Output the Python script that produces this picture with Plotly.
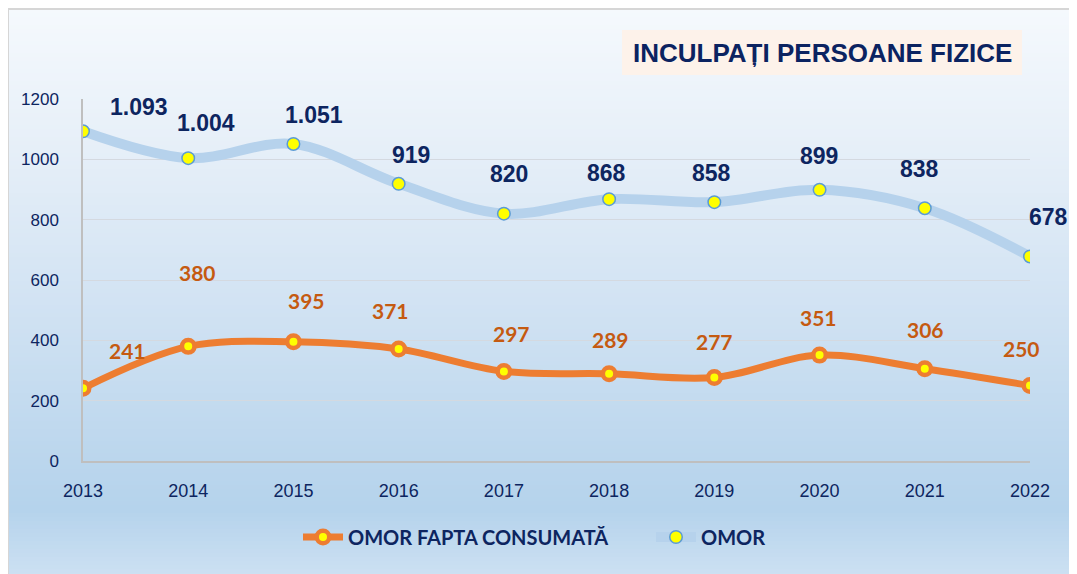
import plotly.graph_objects as go

years = [2013, 2014, 2015, 2016, 2017, 2018, 2019, 2020, 2021, 2022]
omor_consumata = [241, 380, 395, 371, 297, 289, 277, 351, 306, 250]
omor = [1093, 1004, 1051, 919, 820, 868, 858, 899, 838, 678]
y_ticks = [0, 200, 400, 600, 800, 1000, 1200]
title_text = "INCULPAȚI PERSOANE FIZICE"
series_names = ["OMOR FAPTA CONSUMATĂ", "OMOR"]

# label offsets in pixels (style only)
omor_off = [(56, 24), (18, 35), (21, 29), (12, 29), (5, 40), (-3, 26), (-3, 29), (-1, 34), (-5, 39), (18, 39)]
cons_off = [(44, 38), (9, 74), (13, 41), (-8, 39), (8, 38), (1, 34), (0, 36), (-1, 38), (1, 39), (-9, 37)]

W, H = 1077, 574
OFF = 8  # page body margin
L, T = 83 - OFF, 99 - OFF
PW, PH = 947, 362
R = W - L - PW
B = H - T - PH

def px_x(p):  # page pixel -> paper x
    return (p - OFF - L) / PW

def px_y(p):  # page pixel -> paper y
    return (T + PH - (p - OFF)) / PH

NAVY = "#0D2560"
ORANGE = "#ED7D31"
ORANGE_TXT = "#C55A11"
BLUE_LINE = "#B6D2EC"

fig = go.Figure()
fig.add_trace(go.Scatter(
    x=years, y=omor_consumata, name=series_names[0], mode="lines+markers",
    line=dict(color=ORANGE, width=7, shape="spline", smoothing=1),
    marker=dict(size=12.5, color="#FFFF00", line=dict(color=ORANGE, width=4.5)),
))
fig.add_trace(go.Scatter(
    x=years, y=omor, name=series_names[1], mode="lines+markers",
    line=dict(color=BLUE_LINE, width=10, shape="spline", smoothing=1),
    marker=dict(size=12.5, color="#FFFF00", line=dict(color="#5B9BD5", width=1.5)),
))

def fmt(v):
    return f"{v:,}".replace(",", ".")

for i, (yr, v) in enumerate(zip(years, omor)):
    fig.add_annotation(x=yr, y=v, text=f"<b>{fmt(v)}</b>", showarrow=False,
                       xshift=omor_off[i][0], yshift=omor_off[i][1],
                       font=dict(family="Liberation Sans, Arial", size=23, color=NAVY))
for i, (yr, v) in enumerate(zip(years, omor_consumata)):
    fig.add_annotation(x=yr, y=v, text=f"<b>{fmt(v)}</b>", showarrow=False,
                       xshift=cons_off[i][0], yshift=cons_off[i][1],
                       font=dict(family="Lato, Carlito, Calibri", size=21, color=ORANGE_TXT))

# title
fig.add_annotation(x=px_x(822), y=px_y(53), xref="paper", yref="paper",
                   xanchor="center", yanchor="middle",
                   text=f"<b>{title_text}</b>", showarrow=False,
                   font=dict(family="Liberation Sans, Arial", size=26, color="#0B2361"))

shapes = []
# gradient background (page-pixel stops)
stops = [(9, (245, 249, 253)), (150, (230, 239, 248)), (300, (210, 227, 243)),
         (460, (187, 214, 237)), (510, (181, 211, 236)), (574, (204, 224, 242))]

def col_at(p):
    for (p0, c0), (p1, c1) in zip(stops[:-1], stops[1:]):
        if p0 <= p <= p1:
            t = (p - p0) / (p1 - p0)
            return tuple(round(a + (b - a) * t) for a, b in zip(c0, c1))
    return stops[-1][1]

step = 4
p = 9
while p < H + OFF:
    c = col_at(p + step / 2)
    shapes.append(dict(type="rect", xref="paper", yref="paper",
                       x0=px_x(9), x1=px_x(W + OFF + 5), y0=px_y(p), y1=px_y(p + step + 1),
                       fillcolor=f"rgb{c}", line=dict(width=0), layer="below"))
    p += step
# border
shapes.append(dict(type="rect", xref="paper", yref="paper",
                   x0=px_x(8), x1=px_x(W + OFF + 10), y0=px_y(9), y1=px_y(H + OFF + 10),
                   fillcolor="rgba(0,0,0,0)", line=dict(color="#D6D6D6", width=2), layer="below"))
# title box
shapes.append(dict(type="rect", xref="paper", yref="paper",
                   x0=px_x(622), x1=px_x(1022), y0=px_y(30), y1=px_y(75),
                   fillcolor="#FDF2EA", line=dict(width=0), layer="below"))

fig.update_layout(
    width=W, height=H, autosize=False,
    margin=dict(l=L, r=R, t=T, b=B, autoexpand=False),
    paper_bgcolor="white", plot_bgcolor="rgba(0,0,0,0)",
    shapes=shapes,
    showlegend=True,
    legend=dict(orientation="h", x=px_x(298), xanchor="left", y=px_y(537), yanchor="middle",
                font=dict(family="Lato, Carlito, Calibri", size=20, color=NAVY, weight="bold"),
                bgcolor="rgba(0,0,0,0)", itemwidth=40, entrywidth=298),
    xaxis=dict(range=[2013, 2022], tickvals=years, ticktext=[str(y) for y in years],
               showgrid=False, zeroline=False, showline=True, linecolor="#BFBFBF", linewidth=1.5,
               ticks="outside", ticklen=13, tickcolor="rgba(0,0,0,0)",
               tickfont=dict(family="Liberation Sans, Arial", size=18, color=NAVY)),
    yaxis=dict(range=[0, 1200], tickvals=y_ticks, showgrid=True, gridcolor="#D4D9E0", gridwidth=1.2,
               zeroline=False, showline=True, linecolor="#BFBFBF", linewidth=1.5,
               ticks="outside", ticklen=19, tickcolor="rgba(0,0,0,0)",
               tickfont=dict(family="Liberation Sans, Arial", size=17, color=NAVY)),
)

fig.write_html("out.html")
